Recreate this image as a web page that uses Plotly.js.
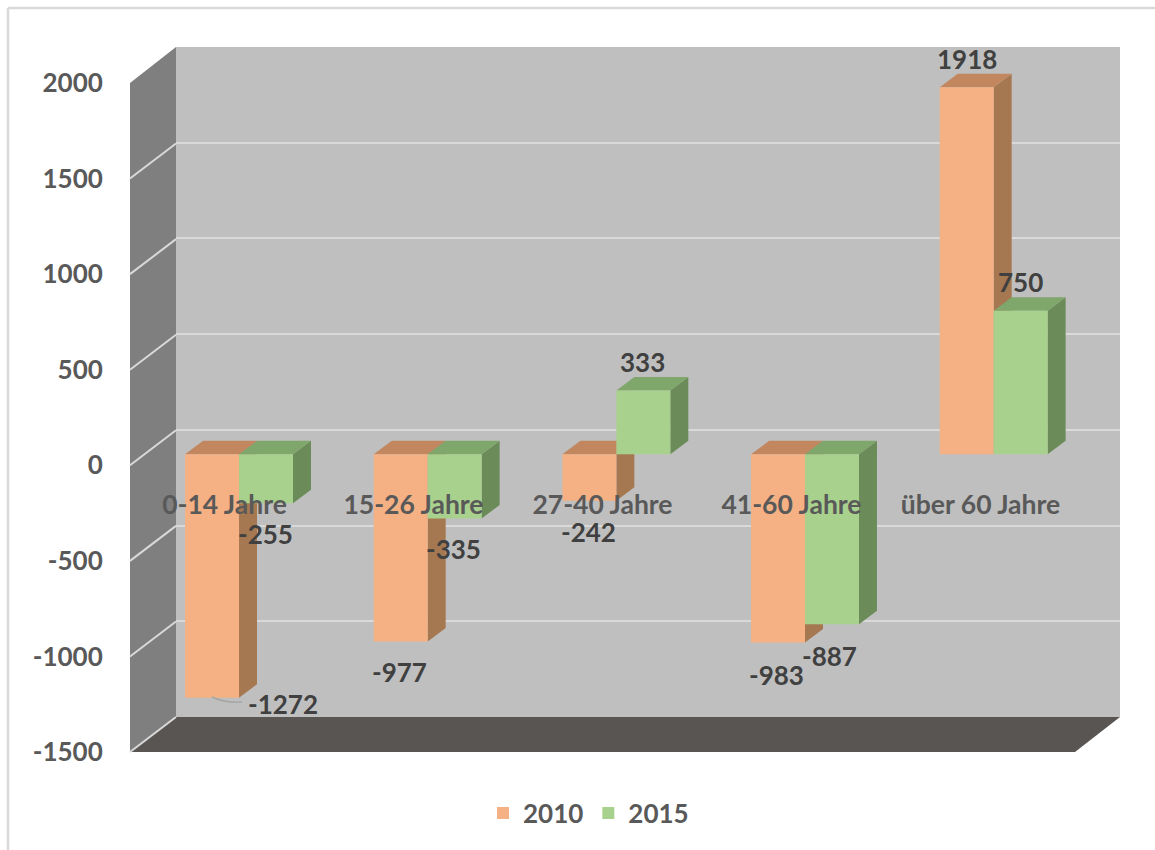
<!DOCTYPE html>
<html>
<head>
<meta charset="utf-8">
<script src="https://cdn.plot.ly/plotly-3.0.1.min.js"></script>
<style>html,body{margin:0;padding:0;background:#fff}</style>
</head>
<body>
<div id="chart" style="width:1155px;height:850px"></div>
<script>
const categories = ['0-14 Jahre', '15-26 Jahre', '27-40 Jahre', '41-60 Jahre', 'über 60 Jahre'];
const values2010 = [-1272, -977, -242, -983, 1918];
const values2015 = [-255, -335, 333, -887, 750];
const yTicks = [-1500, -1000, -500, 0, 500, 1000, 1500, 2000];
const yTickLabels = ['-1500', '-1000', '-500', '0', '500', '1000', '1500', '2000'];
const seriesNames = ['2010', '2015'];

// Label offsets in pixels, relative to the bar end
const shift2010 = [[71, -6], [-1, -31], [-1, -31], [-2, -32], [0, 28]];
const shift2015 = [[-1, -31], [-1, -31], [-1, 29], [-2, -32], [0, 29]];

const FONT = 'Lato, Carlito, sans-serif';
const fx = x => x / 1155, fy = y => 1 - y / 850;
const dom = (a, b) => [fx(a), fx(b)];
const domY = (top, bottom) => [fy(bottom), fy(top)];

const yRange = [-1500, 2000], xRange = [-0.5, 4.5];
const barGap = 0.428, barW = (1 - barGap) / 2;

// Bar plane geometry
const plane = {l: 144.7, r: 1088, t: 71.5, b: 741.5};
const pxPerCat = (plane.r - plane.l) / 5;
const pxPerVal = (plane.b - plane.t) / 3500;
const depthX = 18 / pxPerCat, depthY = 13.5 / pxPerVal;

function faces(vals, offset) {
  const side = {x: [], y: []}, top = {x: [], y: []};
  vals.forEach((v, i) => {
    const xL = i + offset, xR = xL + barW;
    const hi = Math.max(v, 0), lo = Math.min(v, 0);
    side.x.push(xR, xR + depthX, xR + depthX, xR, null);
    side.y.push(hi, hi + depthY, lo + depthY, lo, null);
    top.x.push(xL, xR, xR + depthX, xL + depthX, null);
    top.y.push(hi, hi, hi + depthY, hi + depthY, null);
  });
  return {side, top};
}
function poly(p, color, xa, ya) {
  return {type: 'scatter', mode: 'lines', x: p.x, y: p.y, fill: 'toself', fillcolor: color,
    line: {width: 0, color: color}, xaxis: xa, yaxis: ya, showlegend: false, hoverinfo: 'skip'};
}
const f10 = faces(values2010, -barW), f15 = faces(values2015, 0);
const idx = categories.map((c, i) => i);

const traces = [
  // back wall grid carrier
  {type: 'scatter', mode: 'none', x: [0], y: [0], xaxis: 'x', yaxis: 'y', showlegend: false, hoverinfo: 'skip'},
  poly(f10.side, '#A67851', 'x2', 'y2'),
  poly(f10.top, '#C2875F', 'x2', 'y2'),
  poly(f15.side, '#6B8C59', 'x2', 'y2'),
  poly(f15.top, '#7FA66B', 'x2', 'y2'),
  {type: 'bar', name: seriesNames[0], x: idx, y: values2010, marker: {color: '#F5B183', line: {width: 0}}, xaxis: 'x3', yaxis: 'y3', hoverinfo: 'skip'},
  {type: 'bar', name: seriesNames[1], x: idx, y: values2015, marker: {color: '#A9D18E', line: {width: 0}}, xaxis: 'x3', yaxis: 'y3', hoverinfo: 'skip'},
  // front plane: carries the axis labels
  {type: 'scatter', mode: 'none', x: [0], y: [0], xaxis: 'x4', yaxis: 'y4', showlegend: false, hoverinfo: 'skip'}
];

function hiddenAxis(extra) {
  return Object.assign({showgrid: false, zeroline: false, showline: false, showticklabels: false, ticks: '', fixedrange: true}, extra);
}

const labelFont = {family: FONT, size: 26, color: '#404040', weight: 700};
function dataLabels(vals, offset, shifts) {
  return vals.map((v, i) => ({
    xref: 'x3', yref: 'y3', x: i + offset, y: v, text: String(v), showarrow: false,
    xanchor: 'center', yanchor: 'middle', xshift: shifts[i][0], yshift: shifts[i][1], font: labelFont
  }));
}

// Left wall grid strokes follow the tick values on the front plane
const frontT = 83, frontB = 752;
const tickPx = v => frontB - (v - yRange[0]) / 3500 * (frontB - frontT);
const paperPoly = (pts, color) => ({type: 'path', xref: 'paper', yref: 'paper', layer: 'below', fillcolor: color,
  line: {width: 0}, path: 'M' + pts.map(p => fx(p[0]) + ',' + fy(p[1])).join('L') + 'Z'});
const wallGrid = yTicks.filter(v => v < 2000).map(v => ({
  type: 'line', xref: 'paper', yref: 'paper', layer: 'below',
  x0: fx(130), x1: fx(176), y0: fy(tickPx(v)), y1: fy(tickPx(v) - 35),
  line: {color: '#D9D9D9', width: 2}
}));

const layout = {
  width: 1155, height: 850, autosize: false,
  margin: {l: 0, r: 0, t: 0, b: 0, pad: 0},
  paper_bgcolor: '#FFFFFF', plot_bgcolor: 'rgba(0,0,0,0)',
  barmode: 'group', bargap: barGap, bargroupgap: 0, hovermode: false,
  font: {family: FONT},
  // back wall
  xaxis: hiddenAxis({domain: dom(176, 1120), range: xRange, anchor: 'y'}),
  yaxis: hiddenAxis({domain: domY(47, 717), range: yRange, anchor: 'x', showgrid: true, gridcolor: '#D9D9D9', gridwidth: 2, tickmode: 'array', tickvals: yTicks}),
  // bar sides and tops
  xaxis2: hiddenAxis({domain: dom(plane.l, plane.r), range: xRange, anchor: 'y2'}),
  yaxis2: hiddenAxis({domain: domY(plane.t, plane.b), range: yRange, anchor: 'x2'}),
  // bar fronts
  xaxis3: hiddenAxis({domain: dom(plane.l, plane.r), range: xRange, anchor: 'y3'}),
  yaxis3: hiddenAxis({domain: domY(plane.t, plane.b), range: yRange, anchor: 'x3'}),
  // front plane axes with labels
  xaxis4: hiddenAxis({domain: dom(130, 1075), range: xRange, anchor: 'free', position: fy(486),
    showticklabels: true, tickmode: 'array', tickvals: idx, ticktext: categories, ticklen: 0,
    tickfont: {family: FONT, size: 26.5, color: '#595959', weight: 700}}),
  yaxis4: hiddenAxis({domain: domY(frontT, frontB), range: yRange, anchor: 'x4',
    showticklabels: true, tickmode: 'array', tickvals: yTicks, ticktext: yTickLabels, ticks: 'outside', ticklen: 21, tickcolor: 'rgba(0,0,0,0)',
    tickfont: {family: FONT, size: 26, color: '#595959', weight: 700}}),
  legend: {orientation: 'h', x: fx(483), y: fy(813), xanchor: 'left', yanchor: 'middle',
    bgcolor: 'rgba(0,0,0,0)', font: {family: FONT, size: 26, color: '#595959', weight: 700}, traceorder: 'normal'},
  shapes: [
    paperPoly([[176, 47], [1120, 47], [1120, 717], [176, 717]], '#BFBFBF'),
    paperPoly([[130, 83], [176, 47], [176, 717], [130, 752]], '#7F7F7F'),
    paperPoly([[176, 717], [1120, 717], [1075, 752], [130, 752]], '#595552'),
    ...wallGrid,
    {type: 'line', xref: 'paper', yref: 'paper', x0: fx(8), x1: 1, y0: fy(8), y1: fy(8), line: {color: '#D9D9D9', width: 2.5}},
    {type: 'line', xref: 'paper', yref: 'paper', x0: fx(8), x1: fx(8), y0: fy(8), y1: 0, line: {color: '#D9D9D9', width: 2.5}},
    {type: 'path', xref: 'paper', yref: 'paper', layer: 'above', line: {color: '#A6A6A6', width: 1.5},
      path: 'M' + fx(212) + ',' + fy(697) + 'Q' + fx(224) + ',' + fy(703) + ' ' + fx(242) + ',' + fy(702)}
  ],
  annotations: [...dataLabels(values2010, -barW / 2, shift2010), ...dataLabels(values2015, barW / 2, shift2015)]
};

Plotly.newPlot('chart', traces, layout, {displayModeBar: false, responsive: false});
</script>
</body>
</html>
